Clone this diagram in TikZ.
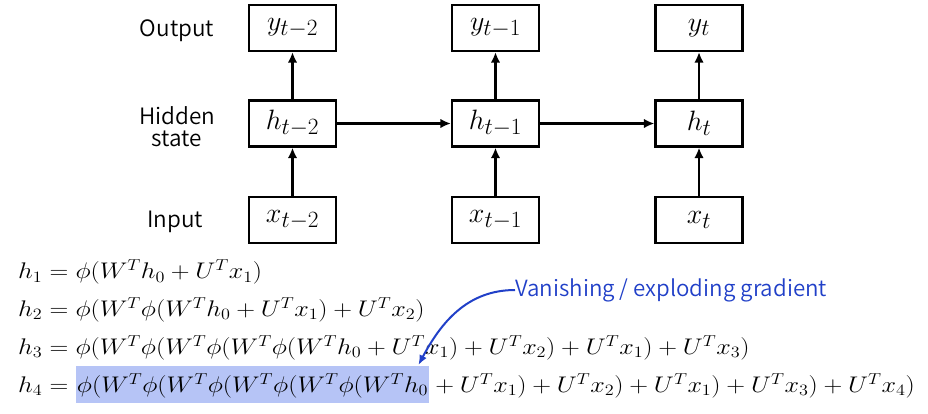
\RequirePackage{fix-cm}
\documentclass[tikz,border=0pt]{standalone}
\usepackage[no-math]{fontspec}
\usepackage{graphicx}
\IfFontExistsTF{Noto Sans CJK KR DemiLight}
  {\newfontfamily\labelfont{Noto Sans CJK KR DemiLight}}
  {\IfFontExistsTF{Noto Sans CJK KR Light}
    {\newfontfamily\labelfont{Noto Sans CJK KR Light}}
    {\newfontfamily\labelfont{Noto Sans CJK KR}}}
\usetikzlibrary{arrows.meta}
\DeclareMathSizes{28}{28}{23.3}{18}
\DeclareMathSizes{22.6}{22.6}{15.8}{11.3}
\definecolor{hlblue}{RGB}{182,196,246}
\definecolor{annblue}{RGB}{33,64,200}
\newcommand{\eqx}[1]{\scalebox{1.152}[1]{$#1$}}
\begin{document}
\begin{tikzpicture}[x=1pt,y=1pt,
  cell/.style={draw, line width=2.2pt, minimum width=87pt, minimum height=46pt, inner sep=0pt,
    font=\fontsize{28}{32}\selectfont},
  rowlabel/.style={font=\labelfont\fontsize{22.5}{26}\selectfont, align=center, inner sep=0pt},
  flow/.style={line width=2.2pt, -{Latex[length=10.5pt,width=9.5pt]}},
  eq/.style={anchor=base west, inner sep=0pt, font=\fontsize{22.6}{26}\selectfont},
  ann/.style={font=\labelfont\fontsize{22.3}{26}\selectfont, text=annblue, inner sep=0pt}]
\useasboundingbox (0,0) rectangle (928,-413);
% row labels
\node[rowlabel] (lout) at (177,-31) {Output};
\node[rowlabel] (lhid) at (177,-127) {Hidden\\[-4pt]state};
\node[rowlabel] (lin) at (175,-222) {Input};
% cells
\node[cell] (y1) at (292.5,-28) {$y_{t-2}$};
\node[cell] (y2) at (495.5,-28) {$y_{t-1}$};
\node[cell] (y3) at (699,-28) {$y_{t}$};
\node[cell] (h1) at (292.5,-123.5) {$h_{t-2}$};
\node[cell] (h2) at (495.5,-123.5) {$h_{t-1}$};
\node[cell] (h3) at (699,-123.5) {$h_{t}$};
\node[cell] (x1) at (292.5,-220) {$x_{t-2}$};
\node[cell] (x2) at (495.5,-220) {$x_{t-1}$};
\node[cell] (x3) at (699,-220) {$x_{t}$};
\foreach \i in {1,2,3}{
  \draw[flow] (x\i) -- (h\i);
  \draw[flow] (h\i) -- (y\i);
}
\draw[flow] (h1) -- (h2);
\draw[flow] (h2) -- (h3);
% equations
\node[eq] (e1) at (18,-278.7) {\eqx{h_1 = \phi(W^T h_0 + U^T x_1)}};
\node[eq] (e2) at (18,-316.6) {\eqx{h_2 = \phi(W^T\phi(W^T h_0 + U^T x_1) + U^T x_2)}};
\node[eq] (e3) at (18,-354.5) {\eqx{h_3 = \phi(W^T\phi(W^T\phi(W^T\phi(W^T h_0 + U^T x_1) + U^T x_2) + U^T x_1) + U^T x_3)}};
\node[eq] (e4a) at (18,-392.3) {\eqx{h_4 = {}}};
\node[eq, fill=hlblue, inner xsep=1pt, text height=26pt, text depth=11pt] (e4b) at (e4a.base east) {\eqx{\phi(W^T\phi(W^T\phi(W^T\phi(W^T\phi(W^T h_0}};
\node[eq] (e4c) at (e4b.base east) {\eqx{{}+ U^T x_1) + U^T x_2) + U^T x_1) + U^T x_3) + U^T x_4)}};
% annotation
\node[ann, anchor=west] (vg) at (515,-290) {Vanishing / exploding gradient};
\coordinate (tip) at ([xshift=-11pt,yshift=1pt]e4b.north east);
\draw[annblue, line width=2pt, -{Latex[length=10pt,width=8pt]}] (vg.west) to[out=180,in=62] (tip);
\end{tikzpicture}
\end{document}
